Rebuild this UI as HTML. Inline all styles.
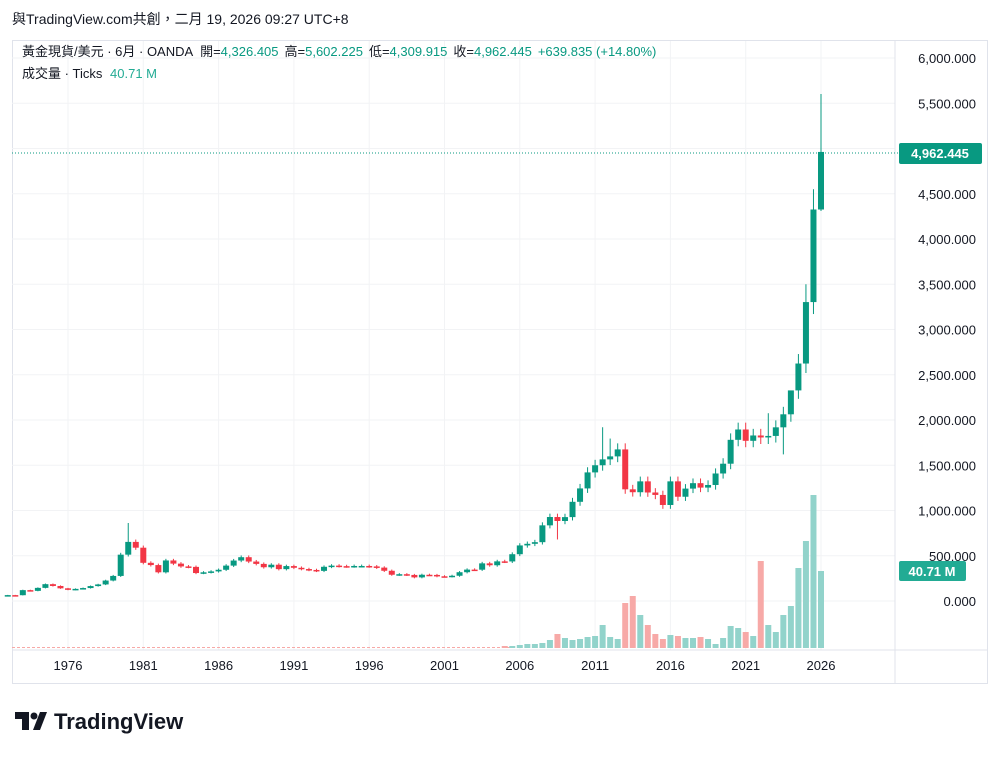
<!DOCTYPE html>
<html><head><meta charset="utf-8"><style>
body{margin:0;background:#fff;width:1000px;height:758px;overflow:hidden;font-family:"Liberation Sans","Noto Sans CJK TC",sans-serif}
</style></head><body>
<svg id="s" width="1000" height="758" xmlns="http://www.w3.org/2000/svg" font-family="Liberation Sans, Noto Sans CJK TC, sans-serif"></svg>
<script>
const s=document.getElementById('s');let h='';
const G='#089981',R='#f23645';
const y=v=>601-v*0.0905;
h+='<text x="12" y="24" font-size="14" fill="#131722">與TradingView.com共創，二月 19, 2026 09:27 UTC+8</text>';
h+='<rect x="12.5" y="40.5" width="975" height="643" fill="none" stroke="#e0e3eb"/>';
const yrs=[1976,1981,1986,1991,1996,2001,2006,2011,2016,2021,2026];
yrs.forEach((yr,i)=>{const x=68+i*75.3;h+=`<line x1="${x}" y1="41" x2="${x}" y2="650" stroke="#f2f3f5"/><text x="${x}" y="670" font-size="13" fill="#131722" text-anchor="middle">${yr}</text>`;});
for(let v=0;v<=6000;v+=500){const yy=y(v);h+=`<line x1="12" y1="${yy}" x2="895" y2="${yy}" stroke="#f2f3f5"/><text x="976" y="${yy+5}" font-size="13" fill="#131722" text-anchor="end">${v.toLocaleString('en-US')}.000</text>`;}
h+='<line x1="895" y1="41" x2="895" y2="683" stroke="#e0e3eb"/><line x1="12" y1="650" x2="988" y2="650" stroke="#e0e3eb"/>';
const c=[65,64,120,112,145,186,166,140,124,134,143,165,183,226,277,512,653,589,422,397,317,448,413,382,377,309,317,327,345,391,447,484,436,410,373,401,352,386,367,353,343,333,378,391,385,383,387,387,382,369,334,290,296,288,261,290,288,273,271,279,318,347,346,416,395,438,437,517,614,632,650,836,928,884,927,1096,1244,1421,1500,1565,1598,1675,1234,1202,1322,1199,1172,1061,1322,1152,1242,1302,1253,1282,1409,1517,1781,1895,1770,1829,1807,1824,1919,2063,2327,2624,3303,4326,4962];
const hiX={16:862,79:1920,80:1795,107:4550,106:3500,108:5602,104:2080,101:2075};
const loX={103:1620,73:680,108:4310};
const vol={};[2,2,3,4,4,5,8,14,10,8,9,11,12,23,11,9,45,52,33,23,14,9,13,12,10,10,11,9,4,10,22,20,16,12,87,23,16,33,42,80,107,153,77].forEach((v,i)=>vol[66+i]=v);
h+='<line x1="12" y1="647.5" x2="520" y2="647.5" stroke="#f7a9a7" stroke-dasharray="3,2"/>';
for(let i=0;i<c.length;i++){
 const x=821-7.53*(108-i);const o=i?c[i-1]:55,cl=c[i];const up=cl>=o;const col=up?G:R;
 const hi=hiX[i]||Math.max(o,cl)*1.04,lo=loX[i]||Math.min(o,cl)*0.96;
 const t=y(Math.max(o,cl)),b=y(Math.min(o,cl));
 h+=`<line x1="${x}" y1="${y(hi)}" x2="${x}" y2="${y(lo)}" stroke="${col}" stroke-width="1"/>`;
 h+=`<rect x="${x-3}" y="${t}" width="6" height="${Math.max(1.5,b-t)}" fill="${col}"/>`;
 if(vol[i])h+=`<rect x="${x-3}" y="${648-vol[i]}" width="6" height="${vol[i]}" fill="${up?'#92d3cb':'#f7a9a7'}"/>`;
}
h+=`<line x1="12" y1="153" x2="900" y2="153" stroke="${G}" stroke-dasharray="1,2"/>`;
h+=`<rect x="899" y="143" width="83" height="21" rx="2" fill="${G}"/><text x="940" y="158" font-size="13" font-weight="bold" fill="#fff" text-anchor="middle">4,962.445</text>`;
h+=`<rect x="899" y="561" width="67" height="20" rx="2" fill="#22ab94"/><text x="932" y="576" font-size="13" font-weight="bold" fill="#fff" text-anchor="middle">40.71 M</text>`;
h+=`<text x="22" y="56" font-size="13" fill="#131722">黃金現貨/美元 · 6月 · OANDA <tspan dx="4">開=</tspan><tspan fill="${G}">4,326.405</tspan><tspan dx="6">高=</tspan><tspan fill="${G}">5,602.225</tspan><tspan dx="6">低=</tspan><tspan fill="${G}">4,309.915</tspan><tspan dx="6">收=</tspan><tspan fill="${G}">4,962.445</tspan><tspan dx="6" fill="${G}">+639.835 (+14.80%)</tspan></text>`;
h+=`<text x="22" y="78" font-size="13" fill="#131722">成交量 · Ticks <tspan dx="4" fill="#22ab94">40.71 M</tspan></text>`;
h+='<g fill="#131722"><rect x="15" y="712" width="14" height="7"/><rect x="22" y="712" width="7" height="18"/><circle cx="34" cy="716" r="3.5"/><polygon points="40,712 47,712 40,730 33,730"/></g>';
h+='<text x="54" y="729" font-size="22" font-weight="bold" fill="#131722">TradingView</text>';
s.innerHTML=h;
</script>
</body></html>
